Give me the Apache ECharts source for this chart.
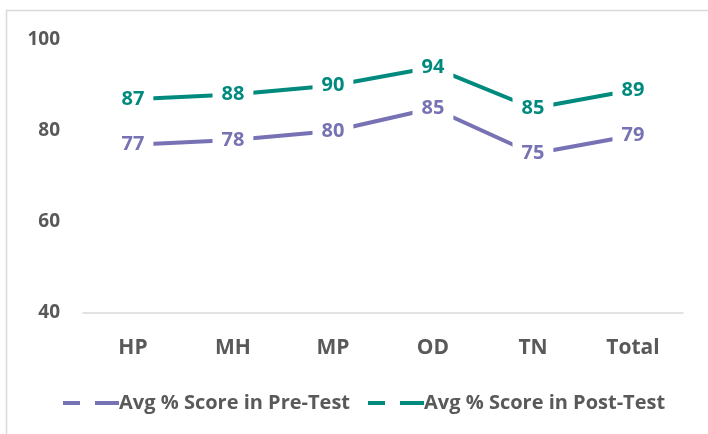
<!DOCTYPE html>
<html><head><meta charset="utf-8">
<script src="https://cdn.jsdelivr.net/npm/echarts@6/dist/echarts.min.js"></script>
<style>html,body{margin:0;padding:0;background:#fff}#c{width:708px;height:434px}</style>
</head><body><div id="c"></div>
<script>
const categories = ['HP','MH','MP','OD','TN','Total'];
const preTest = [77, 78, 80, 85, 75, 79];
const postTest = [87, 88, 90, 94, 85, 89];
const yTicks = [40, 60, 80, 100];
const seriesNames = ['Avg % Score in Pre-Test', 'Avg % Score in Post-Test'];

const font = '"Open Sans", Lato, sans-serif';
const purple = '#7672b4';
const teal = '#008a7e';
const grey = '#595959';
const chart = echarts.init(document.getElementById('c'));
const dashIcon = 'path://M0,0h17v4h-17z M32,0h24v4h-24z';
function mkSeries(name, data, color){
  return {
    name, type:'line', data, symbol:'circle', symbolSize:0.1, showSymbol:true, color,
    itemStyle:{color},
    lineStyle:{width:4, color},
    label:{show:true, position:[0,0], align:'center', verticalAlign:'middle', color, fontFamily:font, fontWeight:'bold', fontSize:20,
      backgroundColor:'#fff', padding:[2,9]},
    emphasis:{disabled:true}, animation:false
  };
}
chart.setOption({
  animation:false,
  graphic:[{type:'rect', shape:{x:6.5,y:10.5,width:720,height:440}, style:{fill:'none', stroke:'#d9d9d9', lineWidth:1.5}, silent:true}],
  grid:{left:83, right:25, top:40, bottom:121, containLabel:false},
  xAxis:{type:'category', data:categories, boundaryGap:true,
    axisLine:{show:true, lineStyle:{color:'#d9d9d9', width:1.5}}, axisTick:{show:false},
    axisLabel:{color:grey, fontFamily:font, fontWeight:'bold', fontSize:21, margin:25}},
  yAxis:{type:'value', min:yTicks[0], max:yTicks[yTicks.length-1], interval:20,
    axisLine:{show:false}, axisTick:{show:false}, splitLine:{show:false},
    axisLabel:{color:grey, fontFamily:font, fontWeight:'bold', fontSize:19, margin:23}},
  legend:{top:388, left:58, itemWidth:56, itemHeight:4, itemGap:18,
    textStyle:{color:grey, fontFamily:font, fontWeight:'bold', fontSize:20, padding:[0,0,0,-5]},
    data:[{name:seriesNames[0], icon:dashIcon},{name:seriesNames[1], icon:dashIcon}]},
  series:[mkSeries(seriesNames[0], preTest, purple), mkSeries(seriesNames[1], postTest, teal)]
});
</script></body></html>
